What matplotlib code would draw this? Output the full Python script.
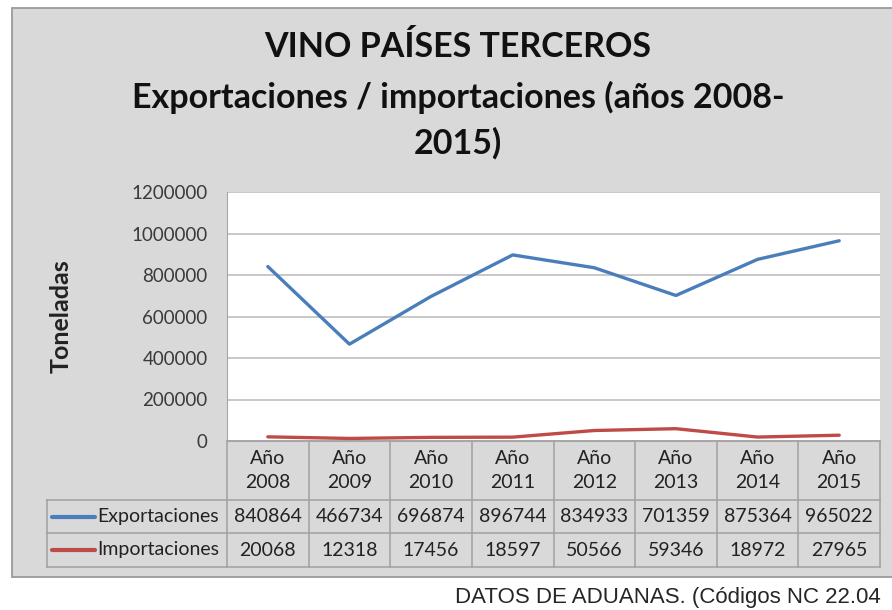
import matplotlib.pyplot as plt
from matplotlib.patches import Rectangle
from matplotlib.transforms import blended_transform_factory

# data
years = ["2008", "2009", "2010", "2011", "2012", "2013", "2014", "2015"]
col_labels = ["Año\n" + y for y in years]
exportaciones = [840864, 466734, 696874, 896744, 834933, 701359, 875364, 965022]
importaciones = [20068, 12318, 17456, 18597, 50566, 59346, 18972, 27965]
series_names = ["Exportaciones", "Importaciones"]
series_colors = ["#4a7ebb", "#be4b48"]
y_ticks = [0, 200000, 400000, 600000, 800000, 1000000, 1200000]

W, H = 892, 610
font = "Lato"
txt_col = "#222222"

fig = plt.figure(figsize=(W / 100, H / 100), dpi=100)
fig.patch.set_facecolor("white")

# chart frame (gray)
fig.patches.append(Rectangle((12 / W, 1 - 577 / H), 1.0, (577 - 8) / H,
                             transform=fig.transFigure, facecolor="#d9d9d9",
                             edgecolor="#9a9a9a", lw=1.3, zorder=-10))

ax = fig.add_axes([227 / W, 1 - 441 / H, 653 / W, 249 / H])
ax.set_facecolor("white")
x = list(range(len(years)))
series = [exportaciones, importaciones]
for vals, c in zip(series, series_colors):
    ax.plot(x, vals, color=c, lw=2.4, solid_capstyle="round", zorder=3)

ax.set_xlim(-0.5, len(years) - 0.5)
ax.set_ylim(0, 1200000)
ax.set_yticks(y_ticks)
ax.set_yticklabels([str(v) for v in y_ticks])
ax.set_xticks([])
ax.grid(axis="y", color="#bfbfbf", lw=1.2)
ax.set_axisbelow(True)
ax.tick_params(axis="y", length=0, pad=14, labelsize=13.5, labelcolor="#3a3a3a")
for lab in ax.get_yticklabels():
    lab.set_family(font)
for s in ["top", "right"]:
    ax.spines[s].set_visible(False)
ax.spines["left"].set_color("#a6a6a6")
ax.spines["bottom"].set_color("#a6a6a6")

ax.set_ylabel("Toneladas", fontsize=18, fontweight="bold", family=font,
              color=txt_col)
ax.yaxis.set_label_coords((73 - 227) / 653, 0.5)

# data table under the axis, aligned to the x scale
tr = blended_transform_factory(ax.transData, ax.transAxes)
px = 653 / len(years)
left_edge = (47 - 227) / px - 0.5
row_y = [0, -59 / 249, -92 / 249, -126 / 249]
grid_kw = dict(color="#a0a0a0", lw=1.1, transform=tr, clip_on=False, zorder=2)

# horizontal lines
ax.plot([-0.5, len(years) - 0.5], [row_y[0]] * 2, **grid_kw)
for yy in row_y[1:]:
    ax.plot([left_edge, len(years) - 0.5], [yy, yy], **grid_kw)
# vertical lines
for i in range(len(years) + 1):
    ax.plot([i - 0.5, i - 0.5], [row_y[0], row_y[3]], **grid_kw)
ax.plot([left_edge, left_edge], [row_y[1], row_y[3]], **grid_kw)

for i, lab in enumerate(col_labels):
    ax.text(i, (row_y[0] + row_y[1]) / 2, lab, transform=tr, ha="center",
            va="center", fontsize=14, family=font, color=txt_col,
            linespacing=1.45, clip_on=False)

key_x0 = (52 - 227) / px - 0.5
key_x1 = (95 - 227) / px - 0.5
name_x = (97 - 227) / px - 0.5
for r, (name, vals, c) in enumerate(zip(series_names, series, series_colors)):
    yc = (row_y[r + 1] + row_y[r + 2]) / 2
    ax.plot([key_x0, key_x1], [yc, yc], color=c, lw=3, transform=tr,
            clip_on=False, solid_capstyle="round")
    ax.text(name_x, yc, name, transform=tr, ha="left", va="center",
            fontsize=14, family=font, color=txt_col, clip_on=False)
    for i, v in enumerate(vals):
        ax.text(i, yc, str(v), transform=tr, ha="center", va="center",
                fontsize=14, family=font, color=txt_col, clip_on=False)

# title
title_lines = ["VINO PAÍSES TERCEROS",
               "Exportaciones / importaciones (años 2008-",
               "2015)"]
for line, yp in zip(title_lines, [47, 97, 143]):
    fig.text(458 / W, 1 - yp / H, line, ha="center", va="center",
             fontsize=24.5, fontweight="bold", family=font, color="#111111")

# source note (runs to the right edge as in the original)
fig.text(455 / W, 1 - 597 / H, "DATOS DE ADUANAS. (Códigos NC 22.04",
         ha="left", va="center", fontsize=16,
         family=["Liberation Sans Narrow", "Liberation Sans", "DejaVu Sans"],
         color="#262626")

fig.savefig("out.png", dpi=100)
